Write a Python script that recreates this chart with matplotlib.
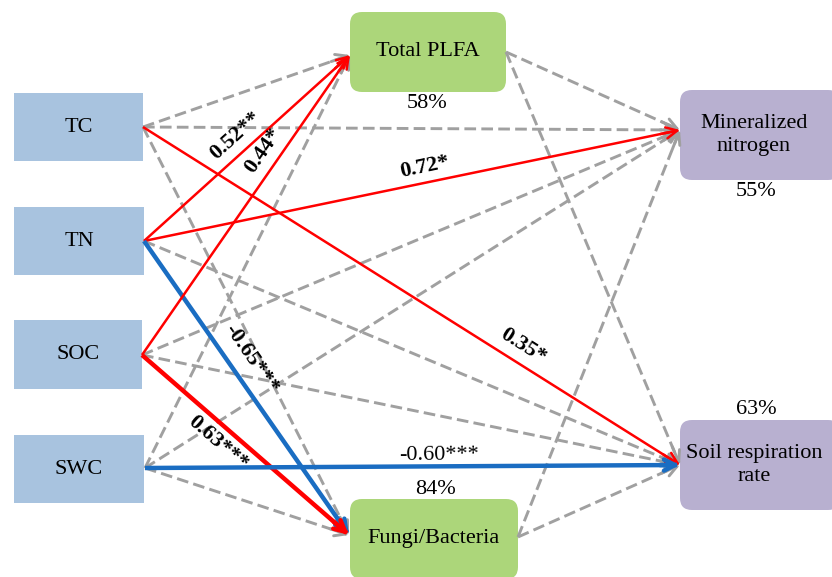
import numpy as np
import matplotlib
matplotlib.use('Agg')
from matplotlib import pyplot as plt
from matplotlib.patches import FancyBboxPatch, Rectangle

plt.rcParams['font.family'] = ['Liberation Serif', 'DejaVu Serif']

# --- path model -------------------------------------------------------------
drivers = ['TC', 'TN', 'SOC', 'SWC']
mediators = ['Total PLFA', 'Fungi/Bacteria']
responses = ['Mineralized\nnitrogen', 'Soil respiration\nrate']
r2 = {'Total PLFA': 58, 'Fungi/Bacteria': 84,
      'Mineralized\nnitrogen': 55, 'Soil respiration\nrate': 63}

# (source, target, coefficient or None when not significant, stars)
edges = [
    ('TC', 'Total PLFA', None, ''),
    ('TC', 'Mineralized\nnitrogen', None, ''),
    ('TC', 'Soil respiration\nrate', 0.35, '*'),
    ('TC', 'Fungi/Bacteria', None, ''),
    ('TN', 'Total PLFA', 0.52, '**'),
    ('TN', 'Mineralized\nnitrogen', 0.72, '*'),
    ('TN', 'Soil respiration\nrate', None, ''),
    ('TN', 'Fungi/Bacteria', -0.65, '***'),
    ('SOC', 'Total PLFA', 0.44, '*'),
    ('SOC', 'Mineralized\nnitrogen', None, ''),
    ('SOC', 'Soil respiration\nrate', None, ''),
    ('SOC', 'Fungi/Bacteria', 0.63, '***'),
    ('SWC', 'Total PLFA', None, ''),
    ('SWC', 'Mineralized\nnitrogen', None, ''),
    ('SWC', 'Soil respiration\nrate', -0.60, '***'),
    ('SWC', 'Fungi/Bacteria', None, ''),
    ('Total PLFA', 'Mineralized\nnitrogen', None, ''),
    ('Total PLFA', 'Soil respiration\nrate', None, ''),
    ('Fungi/Bacteria', 'Mineralized\nnitrogen', None, ''),
    ('Fungi/Bacteria', 'Soil respiration\nrate', None, ''),
]

# --- layout (pixel units, y down) -------------------------------------------
boxes = {
    'TC': (14, 93, 129, 68), 'TN': (14, 207, 130, 68),
    'SOC': (14, 320, 128, 69), 'SWC': (14, 435, 130, 68),
    'Total PLFA': (350, 12, 156, 80), 'Fungi/Bacteria': (350, 499, 168, 80),
    'Mineralized\nnitrogen': (680, 90, 160, 90),
    'Soil respiration\nrate': (680, 420, 160, 90),
}
out_pt = {'TC': (143, 127), 'TN': (144, 241), 'SOC': (142, 355), 'SWC': (145, 468),
          'Total PLFA': (506, 52), 'Fungi/Bacteria': (518, 537)}
in_pt = {'Total PLFA': (350, 55), 'Fungi/Bacteria': (349, 535),
         'Mineralized\nnitrogen': (680, 130), 'Soil respiration\nrate': (680, 465)}
r2_pos = {'Total PLFA': (427, 104), 'Fungi/Bacteria': (436, 490),
          'Mineralized\nnitrogen': (756, 192), 'Soil respiration\nrate': (756, 410)}
# label placement along each significant path: (fraction, normal offset px)
label_at = {('TC', 'Soil respiration\nrate'): (0.69, -17),
            ('TN', 'Total PLFA'): (0.50, -17),
            ('TN', 'Mineralized\nnitrogen'): (0.53, -15),
            ('TN', 'Fungi/Bacteria'): (0.44, -20),
            ('SOC', 'Total PLFA'): (0.65, -17),
            ('SOC', 'Fungi/Bacteria'): (0.42, 17),
            ('SWC', 'Soil respiration\nrate'): (0.55, -11)}

fig = plt.figure(figsize=(8.32, 5.77), dpi=100)
ax = fig.add_axes([0, 0, 1, 1])
ax.set_xlim(0, 832)
ax.set_ylim(577, 0)
ax.axis('off')

left_col = '#a8c3df'
green = '#acd67a'
purple = '#b8b0d0'
gray = '#a0a0a0'

for name in drivers:
    x, y, w, h = boxes[name]
    ax.add_patch(Rectangle((x, y), w, h, fc=left_col, ec='none', zorder=1))
    ax.text(x + w / 2, y + h / 2, name, ha='center', va='center', fontsize=16, zorder=5)
for name in mediators + responses:
    x, y, w, h = boxes[name]
    fc = green if name in mediators else purple
    ax.add_patch(FancyBboxPatch((x + 12, y + 12), w - 24, h - 24,
                                boxstyle='round,pad=12', fc=fc, ec='none', zorder=1))
    ax.text(x + w / 2 - (6 if name in responses else 0), y + h / 2, name,
            ha='center', va='center', fontsize=16, linespacing=1.3, zorder=5)
    px, py = r2_pos[name]
    ax.text(px, py, '%d%%' % r2[name], ha='center', va='center', fontsize=16, zorder=5)


def draw_edge(p0, p1, color, lw, dashed):
    p0, p1 = np.array(p0, float), np.array(p1, float)
    d = (p1 - p0) / np.linalg.norm(p1 - p0)
    ls = (0, (4, 1.8)) if dashed else '-'
    ax.plot([p0[0], p1[0] - d[0] * 3], [p0[1], p1[1] - d[1] * 3], color=color, lw=lw,
            ls=ls, solid_capstyle='butt', zorder=3 if dashed else 4)
    ax.annotate('', xy=p1, xytext=p1 - d * 20,
                arrowprops=dict(arrowstyle='->,head_length=0.8,head_width=0.4',
                                color=color, lw=lw, shrinkA=0, shrinkB=0),
                zorder=3 if dashed else 4)


for src, dst, coef, stars in edges:
    p0, p1 = out_pt[src], in_pt[dst]
    if coef is None:
        draw_edge(p0, p1, gray, 2.1, True)
        continue
    color = 'red' if coef > 0 else '#1a6dc2'
    lw = 3.2 if len(stars) == 3 else 1.8
    draw_edge(p0, p1, color, lw, False)
    t, off = label_at[(src, dst)]
    a, b = np.array(p0, float), np.array(p1, float)
    d = (b - a) / np.linalg.norm(b - a)
    nrm = np.array([d[1], -d[0]])
    if nrm[1] > 0:
        nrm = -nrm
    pos = a + (b - a) * t - nrm * off
    rot = -np.degrees(np.arctan2(b[1] - a[1], b[0] - a[0]))
    bold = dst != 'Soil respiration\nrate' or src != 'SWC'
    ax.text(pos[0], pos[1], '%.2f%s' % (coef, stars), rotation=rot,
            rotation_mode='anchor', ha='center', va='center', fontsize=16,
            fontweight='bold' if bold else 'normal', zorder=6)

fig.savefig('out.png', dpi=100)
